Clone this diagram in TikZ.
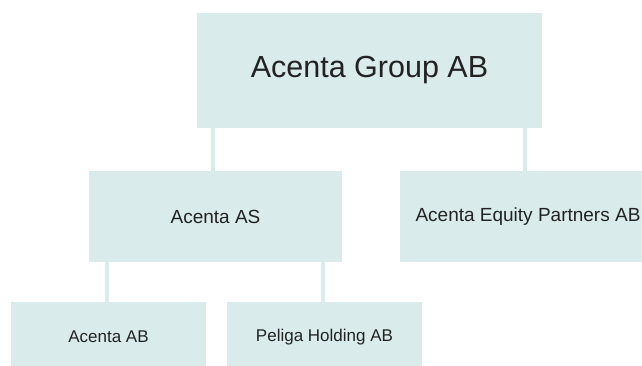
\documentclass[tikz,border=0pt]{standalone}
\usepackage{fontspec}
\setmainfont{Liberation Sans}
\usetikzlibrary{positioning, calc}
\definecolor{paleteal}{HTML}{DAEBEB}
\definecolor{inkgray}{HTML}{222222}

\tikzset{
  orgbox/.style={fill=paleteal, draw=none, inner sep=0pt, text=inkgray, align=center},
  orglink/.style={draw=paleteal, line width=4pt}
}

\begin{document}
\begin{tikzpicture}[x=1pt, y=-1pt]
  \useasboundingbox (0,0) rectangle (642,365);

  % Top level
  \node[orgbox, minimum width=345pt, minimum height=115pt, font=\fontsize{30.5}{36}\selectfont]
    (group) at (369.5,70.5) {Acenta Group AB};

  % Second level
  \node[orgbox, minimum width=253pt, minimum height=91pt, font=\fontsize{19}{23}\selectfont]
    (as) at (215.5,216.5) {Acenta AS};
  \node[orgbox, minimum width=256pt, minimum height=91pt, font=\fontsize{19}{23}\selectfont]
    (equity) at (528,216.5) {Acenta Equity Partners AB};

  % Third level
  \node[orgbox, minimum width=195pt, minimum height=70pt, font=\fontsize{17}{20}\selectfont]
    (ab) at (108.5,337) {Acenta AB};
  \node[orgbox, minimum width=195pt, minimum height=70pt, font=\fontsize{17}{20}\selectfont]
    (peliga) at (324.5,337) {Peliga Holding AB};

  % Link feet
  \coordinate (asTop) at ([xshift=-2.5pt]as.north);
  \coordinate (equityTop) at ([xshift=-3pt]equity.north);
  \coordinate (abTop) at ([xshift=-1.5pt]ab.north);
  \coordinate (peligaTop) at ([xshift=-1.5pt]peliga.north);

  % Links
  \draw[orglink] (asTop) -- (asTop |- group.south);
  \draw[orglink] (equityTop) -- (equityTop |- group.south);
  \draw[orglink] (abTop) -- (abTop |- as.south);
  \draw[orglink] (peligaTop) -- (peligaTop |- as.south);
\end{tikzpicture}
\end{document}
